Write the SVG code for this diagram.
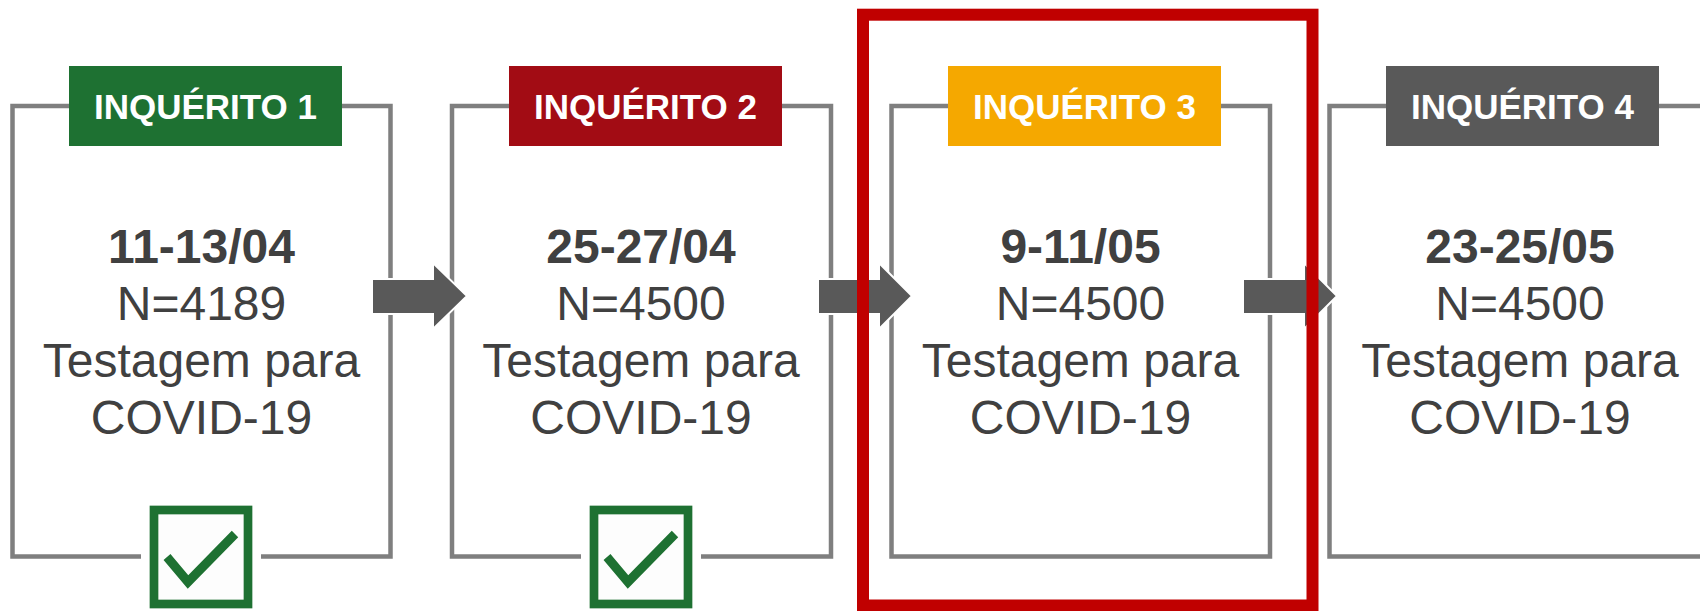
<svg xmlns="http://www.w3.org/2000/svg" width="1700" height="611" viewBox="0 0 1700 611">
<style>
.box{fill:none;stroke:#7F7F7F;stroke-width:4.5}
.lbl{font-family:"Liberation Sans",Arial,sans-serif;font-weight:bold;font-size:35px;fill:#FFFFFF;text-anchor:middle}
.date{font-family:"Liberation Sans",Arial,sans-serif;font-weight:bold;font-size:48px;fill:#404040;text-anchor:middle}
.body{font-family:"Liberation Sans",Arial,sans-serif;font-size:48px;fill:#404040;text-anchor:middle}
.arrow{fill:#595959;stroke:#FFFFFF;stroke-width:2}
.chkbg{fill:#FFFFFF}
.chk{fill:#FDFDFD;stroke:#1E7132;stroke-width:8.7}
.tick{fill:none;stroke:#1E7132;stroke-width:9;stroke-linejoin:miter;stroke-linecap:butt}
</style>
<rect width="1700" height="611" fill="#FFFFFF"/>

<g id="node1">
  <rect class="box" x="12.5" y="106" width="378" height="450.5"/>
  <rect x="69" y="66" width="273" height="80" fill="#1E7132"/>
  <text class="lbl" x="205.5" y="119">INQUÉRITO 1</text>
  <text class="date" x="201.5" y="263">11-13/04</text>
  <text class="body" x="201.5" y="320">N=4189</text>
  <text class="body" x="201.5" y="377">Testagem para</text>
  <text class="body" x="201.5" y="434">COVID-19</text>
  <rect class="chkbg" x="141" y="497" width="120" height="114"/>
  <rect class="chk" x="154" y="510" width="94" height="94"/>
  <polyline class="tick" points="167,557 188,582 235,534"/>
</g>

<g id="node2">
  <rect class="box" x="452" y="106" width="379" height="450.5"/>
  <rect x="509" y="66" width="273" height="80" fill="#A20C14"/>
  <text class="lbl" x="645.5" y="119">INQUÉRITO 2</text>
  <text class="date" x="641" y="263">25-27/04</text>
  <text class="body" x="641" y="320">N=4500</text>
  <text class="body" x="641" y="377">Testagem para</text>
  <text class="body" x="641" y="434">COVID-19</text>
  <rect class="chkbg" x="581" y="497" width="120" height="114"/>
  <rect class="chk" x="594" y="510" width="94" height="94"/>
  <polyline class="tick" points="607,557 628,582 675,534"/>
</g>

<g id="node3">
  <rect class="box" x="891.5" y="106" width="378.5" height="450.5"/>
  <rect x="948" y="66" width="273" height="80" fill="#F5A800"/>
  <text class="lbl" x="1084.5" y="119">INQUÉRITO 3</text>
  <text class="date" x="1080.5" y="263">9-11/05</text>
  <text class="body" x="1080.5" y="320">N=4500</text>
  <text class="body" x="1080.5" y="377">Testagem para</text>
  <text class="body" x="1080.5" y="434">COVID-19</text>
</g>

<g id="node4">
  <rect class="box" x="1329.5" y="106" width="378" height="450.5"/>
  <rect x="1386" y="66" width="273" height="80" fill="#595959"/>
  <text class="lbl" x="1522.5" y="119">INQUÉRITO 4</text>
  <text class="date" x="1520" y="263">23-25/05</text>
  <text class="body" x="1520" y="320">N=4500</text>
  <text class="body" x="1520" y="377">Testagem para</text>
  <text class="body" x="1520" y="434">COVID-19</text>
</g>

<g id="connectors">
  <polygon class="arrow" points="372,279 433,279 433,263 467,296 433,329 433,314 372,314"/>
  <polygon class="arrow" points="818,279 879,279 879,263 912,296 879,329 879,314 818,314"/>
  <polygon class="arrow" points="1243,279 1304,279 1304,263 1337,296 1304,329 1304,314 1243,314"/>
</g>

<g id="highlight">
  <rect x="863" y="14.7" width="449.5" height="590.8" fill="none" stroke="#C00000" stroke-width="12"/>
</g>
</svg>
